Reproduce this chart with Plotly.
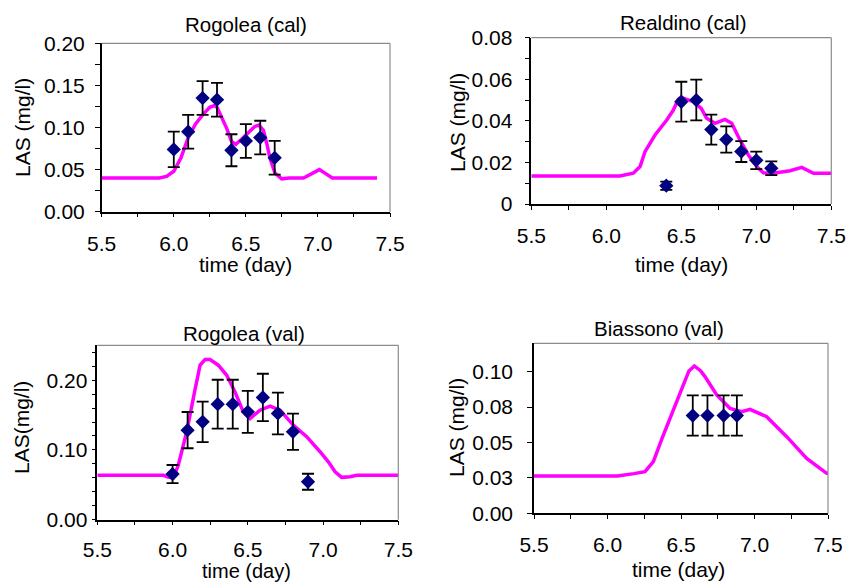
import plotly.graph_objects as go

# ---------------- data ----------------
# Panel 1: Rogolea (cal)
p1_obs_t = [6.0, 6.1, 6.2, 6.3, 6.4, 6.5, 6.6, 6.7]
p1_obs_v = [0.074, 0.095, 0.135, 0.133, 0.073, 0.084, 0.088, 0.064]
p1_obs_e = [0.021, 0.020, 0.020, 0.020, 0.019, 0.020, 0.020, 0.020]
p1_sim_t = [5.5, 5.9, 5.95, 6.0, 6.05, 6.1, 6.15, 6.2, 6.25, 6.28, 6.3, 6.367, 6.402,
            6.43, 6.47, 6.52, 6.56, 6.59, 6.621, 6.645, 6.668, 6.702, 6.749, 6.8, 6.9,
            7.01, 7.1, 7.41]
p1_sim_v = [0.040, 0.040, 0.042, 0.048, 0.064, 0.088, 0.104, 0.115, 0.124, 0.126, 0.124,
            0.099, 0.083, 0.080, 0.086, 0.095, 0.101, 0.103, 0.097, 0.081, 0.063, 0.046,
            0.039, 0.040, 0.040, 0.050, 0.040, 0.040]

# Panel 2: Realdino (cal)
p2_obs_t = [6.4, 6.5, 6.6, 6.7, 6.8, 6.9, 7.0, 7.1]
p2_obs_v = [0.0088, 0.0492, 0.0500, 0.0358, 0.0310, 0.0252, 0.0210, 0.0172]
p2_obs_e = [0.0020, 0.0096, 0.0098, 0.0072, 0.0063, 0.0050, 0.0042, 0.0033]
p2_sim_t = [5.5, 6.09, 6.18, 6.225, 6.258, 6.325, 6.403, 6.447, 6.48, 6.5, 6.58, 6.633,
            6.669, 6.725, 6.791, 6.836, 6.891, 6.947, 7.003, 7.047, 7.113, 7.225, 7.303,
            7.381, 7.55]
p2_sim_v = [0.0135, 0.0135, 0.0148, 0.0180, 0.0252, 0.0332, 0.0404, 0.0452, 0.0504,
            0.0513, 0.0492, 0.0460, 0.0412, 0.0388, 0.0407, 0.0388, 0.0308, 0.0236,
            0.0180, 0.0150, 0.0148, 0.0160, 0.0176, 0.0148, 0.0148]

# Panel 3: Rogolea (val)
p3_obs_t = [6.0, 6.1, 6.2, 6.3, 6.4, 6.5, 6.6, 6.7, 6.8, 6.9]
p3_obs_v = [0.0654, 0.1284, 0.1403, 0.1656, 0.1656, 0.1546, 0.1752, 0.1523, 0.126, 0.0544]
p3_obs_e = [0.013, 0.026, 0.029, 0.035, 0.035, 0.030, 0.034, 0.030, 0.026, 0.0115]
p3_sim_t = [5.5, 5.94, 5.97, 6.005, 6.038, 6.094, 6.149, 6.183, 6.216, 6.249, 6.304,
            6.36, 6.415, 6.47, 6.515, 6.581, 6.648, 6.714, 6.802, 6.891, 6.98, 7.035,
            7.08, 7.124, 7.179, 7.224, 7.5]
p3_sim_v = [0.0636, 0.0636, 0.061, 0.060, 0.078, 0.126, 0.186, 0.2215, 0.2296, 0.2296,
            0.2215, 0.207, 0.183, 0.1546, 0.145, 0.157, 0.1628, 0.157, 0.1356, 0.119,
            0.0974, 0.083, 0.0687, 0.0607, 0.0616, 0.0636, 0.0636]

# Panel 4: Biassono (val)
p4_obs_t = [6.58, 6.68, 6.79, 6.88]
p4_obs_v = [0.069, 0.069, 0.069, 0.069]
p4_obs_e = [0.0142, 0.0142, 0.0142, 0.0142]
p4_sim_t = [5.5, 6.067, 6.18, 6.255, 6.312, 6.373, 6.493, 6.554, 6.591, 6.634, 6.663,
            6.743, 6.833, 6.913, 6.969, 7.083, 7.219, 7.355, 7.491, 7.55]
p4_sim_v = [0.0263, 0.0263, 0.028, 0.0294, 0.0365, 0.0534, 0.0847, 0.1005, 0.104,
            0.1005, 0.0965, 0.0835, 0.0741, 0.0717, 0.0734, 0.0682, 0.0541, 0.0388,
            0.0282, 0.0282]

titles = ["Rogolea (cal)", "Realdino (cal)", "Rogolea (val)", "Biassono (val)"]
x_title = "time (day)"
y_titles = ["LAS (mg/l)", "LAS (mg/l)", "LAS(mg/l)", "LAS (mg/l)"]

x_tickvals = [5.5, 6.0, 6.5, 7.0, 7.5]
x_ticktext = ["5.5", "6.0", "6.5", "7.0", "7.5"]
y1_tickvals = [0.0, 0.05, 0.10, 0.15, 0.20]
y1_ticktext = ["0.00", "0.05", "0.10", "0.15", "0.20"]
y2_tickvals = [0.0, 0.02, 0.04, 0.06, 0.08]
y2_ticktext = ["0", "0.02", "0.04", "0.06", "0.08"]
y3_tickvals = [0.0, 0.10, 0.20]
y3_ticktext = ["0.00", "0.10", "0.20"]
y4_tickvals = [0.0, 0.025, 0.05, 0.075, 0.10]
y4_ticktext = ["0.00", "0.03", "0.05", "0.08", "0.10"]

# ---------------- styling / layout ----------------
W, H = 848, 582
FONT = "Liberation Sans, Arial, sans-serif"
LINE_C = "#FF00FF"
MARK_C = "#000080"
TICK_FS = 21
TITLE_FS = 20.5

panels = [
    dict(obs=(p1_obs_t, p1_obs_v, p1_obs_e), sim=(p1_sim_t, p1_sim_v),
         px=(101.7, 390.0), py=(43.3, 211.7), yr=[0, 0.20],
         yt=(y1_tickvals, y1_ticktext), ymin=0.025, ystand=6, yticklen=5,
         xstand=8, xt_fs=21,
         title_xy=(246, 25), xt_xy=(245, 265), yt_xy=(22, 128)),
    dict(obs=(p2_obs_t, p2_obs_v, p2_obs_e), sim=(p2_sim_t, p2_sim_v),
         px=(531.3, 831.3), py=(37.7, 204.0), yr=[0, 0.08],
         yt=(y2_tickvals, y2_ticktext), ymin=0.01, ystand=8, yticklen=5,
         xstand=8, xt_fs=21,
         title_xy=(683, 23), xt_xy=(681, 265), yt_xy=(457, 122)),
    dict(obs=(p3_obs_t, p3_obs_v, p3_obs_e), sim=(p3_sim_t, p3_sim_v),
         px=(97.3, 398.3), py=(345.3, 519.7), yr=[0, 0.25],
         yt=(y3_tickvals, y3_ticktext), ymin=0.02, ystand=0, yticklen=4,
         xstand=6, xt_fs=20,
         title_xy=(244, 333), xt_xy=(247, 571), yt_xy=(21, 428)),
    dict(obs=(p4_obs_t, p4_obs_v, p4_obs_e), sim=(p4_sim_t, p4_sim_v),
         px=(534.0, 828.0), py=(343.3, 513.3), yr=[0, 0.12],
         yt=(y4_tickvals, y4_ticktext), ymin=None, ystand=10, yticklen=5,
         xstand=8, xt_fs=21,
         title_xy=(659, 328), xt_xy=(678, 569), yt_xy=(456, 428)),
]

fig = go.Figure()
layout = dict(
    width=W, height=H, margin=dict(l=0, r=0, t=0, b=0, autoexpand=False),
    paper_bgcolor="white", plot_bgcolor="white", showlegend=False,
    font=dict(family=FONT, size=TICK_FS, color="black"),
)
annotations = []
shapes = []

for i, p in enumerate(panels):
    n = "" if i == 0 else str(i + 1)
    xa, ya = "x" + n, "y" + n
    t, v, e = p["obs"]
    st, sv = p["sim"]
    fig.add_trace(go.Scatter(x=st, y=sv, mode="lines", xaxis=xa, yaxis=ya,
                             line=dict(color=LINE_C, width=3.5), hoverinfo="skip"))
    fig.add_trace(go.Scatter(x=t, y=v, mode="markers", xaxis=xa, yaxis=ya,
                             marker=dict(symbol="diamond", size=11, color=MARK_C),
                             error_y=dict(type="data", array=e, visible=True,
                                          color="black", thickness=1.8, width=6),
                             cliponaxis=False))
    x0, x1 = p["px"]
    y0, y1 = p["py"]
    xdom = [x0 / W, x1 / W]
    ydom = [1 - y1 / H, 1 - y0 / H]
    layout["xaxis" + n] = dict(
        domain=xdom, range=[5.5, 7.5], anchor=ya, automargin=False,
        tickmode="array", tickvals=x_tickvals, ticktext=x_ticktext,
        ticks="outside", ticklen=4, tickwidth=1.3, tickcolor="black",
        showline=True, linecolor="black", linewidth=1.5,
        showgrid=False, zeroline=False, ticklabelstandoff=p["xstand"],
        minor=dict(dtick=0.25, tick0=5.5, ticks="outside", ticklen=4,
                   tickwidth=1.3, tickcolor="black", showgrid=False),
        tickfont=dict(size=TICK_FS),
    )
    yv, ytx = p["yt"]
    yd = dict(
        domain=ydom, range=p["yr"], anchor=xa, automargin=False,
        tickmode="array", tickvals=yv, ticktext=ytx,
        ticks="outside", ticklen=p["yticklen"], tickwidth=1.3, tickcolor="black",
        showline=True, linecolor="black", linewidth=1.5,
        showgrid=False, zeroline=False, ticklabelstandoff=p["ystand"],
        tickfont=dict(size=TICK_FS),
    )
    if p["ymin"]:
        yd["minor"] = dict(dtick=p["ymin"], tick0=0, ticks="outside",
                           ticklen=p["yticklen"], tickwidth=1.3, tickcolor="black",
                           showgrid=False)
    layout["yaxis" + n] = yd

    # grey top / right frame
    shapes.append(dict(type="line", xref=xa + " domain", yref=ya + " domain",
                       x0=0, x1=1, y0=1, y1=1, line=dict(color="#8c8c8c", width=1.2)))
    shapes.append(dict(type="line", xref=xa + " domain", yref=ya + " domain",
                       x0=1, x1=1, y0=0, y1=1, line=dict(color="#8c8c8c", width=1.2)))

    tx, ty = p["title_xy"]
    annotations.append(dict(text=titles[i], x=tx / W, y=1 - ty / H, xref="paper",
                            yref="paper", showarrow=False, xanchor="center",
                            yanchor="middle", font=dict(size=TITLE_FS)))
    ax_, ay_ = p["xt_xy"]
    annotations.append(dict(text=x_title, x=ax_ / W, y=1 - ay_ / H, xref="paper",
                            yref="paper", showarrow=False, xanchor="center",
                            yanchor="middle", font=dict(size=p["xt_fs"])))
    bx, by = p["yt_xy"]
    annotations.append(dict(text=y_titles[i], x=bx / W, y=1 - by / H, xref="paper",
                            yref="paper", showarrow=False, xanchor="center",
                            yanchor="middle", textangle=-90, font=dict(size=TICK_FS)))

layout["annotations"] = annotations
layout["shapes"] = shapes
fig.update_layout(**layout)
fig.write_html("out.html",
               config={"displayModeBar": False},
               post_script="document.body.style.margin='0';"
                           "document.body.style.overflow='hidden';")
